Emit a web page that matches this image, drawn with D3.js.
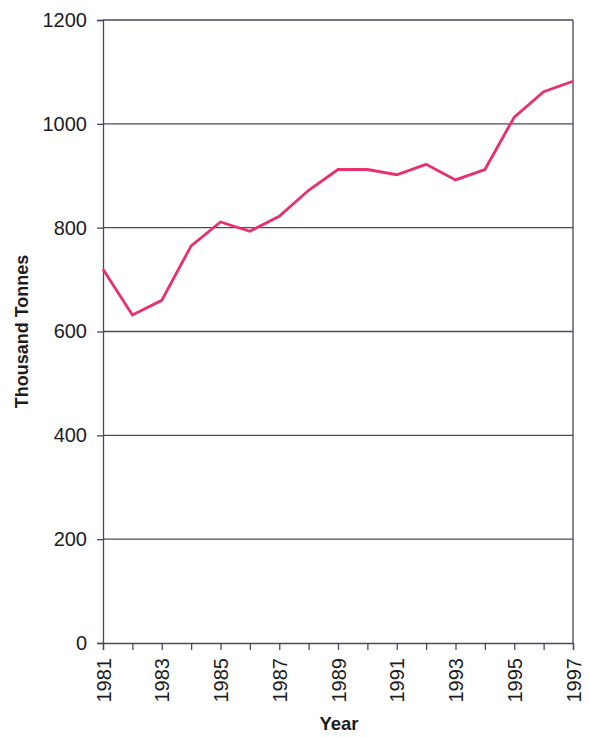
<!DOCTYPE html>
<html>
<head>
<meta charset="utf-8">
<script src="https://cdn.jsdelivr.net/npm/d3@7/dist/d3.min.js"></script>
<style>
  html, body { margin: 0; padding: 0; background: #ffffff; }
  svg { display: block; }
  text { font-family: "Liberation Sans", Arial, sans-serif; fill: #1c1c1c; }
</style>
</head>
<body>
<svg id="chart" width="589" height="737"></svg>
<script>
const years = [1981,1982,1983,1984,1985,1986,1987,1988,1989,1990,1991,1992,1993,1994,1995,1996,1997];
const tonnes = [720,632,660,765,811,793,822,872,912,912,902,922,892,912,1013,1062,1082];
const yTicks = [0,200,400,600,800,1000,1200];
const xLabelYears = [1981,1983,1985,1987,1989,1991,1993,1995,1997];

const margin = {left: 103, right: 16, top: 20, bottom: 94};
const W = 589, H = 737;
const svg = d3.select("#chart");

const x = d3.scaleLinear().domain([1981, 1997]).range([margin.left, W - margin.right]);
const y = d3.scaleLinear().domain([0, 1200]).range([H - margin.bottom, margin.top]);

const axisColor = "#4a4760";

// gridlines
svg.append("g").selectAll("line").data(yTicks.filter(d => d > 0)).join("line")
  .attr("x1", x(1981)).attr("x2", x(1997))
  .attr("y1", d => y(d)).attr("y2", d => y(d))
  .attr("stroke", axisColor).attr("stroke-width", 1.3);

// right border
svg.append("line")
  .attr("x1", x(1997)).attr("x2", x(1997))
  .attr("y1", y(1200)).attr("y2", y(0))
  .attr("stroke", axisColor).attr("stroke-width", 1.3);

// y axis
const yAxis = svg.append("g").attr("transform", `translate(${x(1981)},0)`)
  .call(d3.axisLeft(y).tickValues(yTicks).tickSize(6).tickPadding(10).tickFormat(d3.format("d")));
yAxis.select(".domain").attr("stroke", axisColor).attr("stroke-width", 1.3);
yAxis.selectAll(".tick line").attr("stroke", axisColor).attr("stroke-width", 1.3);
yAxis.selectAll(".tick text").attr("font-size", 20).attr("font-family", "Liberation Sans, Arial, sans-serif").attr("fill", "#1c1c1c");

// x axis
const xAxis = svg.append("g").attr("transform", `translate(0,${y(0)})`)
  .call(d3.axisBottom(x).tickValues(years).tickSize(7).tickFormat(d => xLabelYears.includes(d) ? String(d) : ""));
xAxis.select(".domain").attr("stroke", axisColor).attr("stroke-width", 1.3);
xAxis.selectAll(".tick line").attr("stroke", axisColor).attr("stroke-width", 1.3);
xAxis.selectAll(".tick text")
  .attr("font-size", 20).attr("font-family", "Liberation Sans, Arial, sans-serif").attr("fill", "#1c1c1c")
  .attr("transform", "rotate(-90)")
  .attr("text-anchor", "end")
  .attr("x", -15).attr("y", 0).attr("dy", "0.35em");

// line
svg.append("path")
  .datum(years.map((yr, i) => [yr, tonnes[i]]))
  .attr("fill", "none")
  .attr("stroke", "#ea2f6e")
  .attr("stroke-width", 2.8)
  .attr("stroke-linejoin", "miter")
  .attr("d", d3.line().x(d => x(d[0])).y(d => y(d[1])));

// axis titles
svg.append("text")
  .attr("transform", `translate(28,${(y(0)+y(1200))/2}) rotate(-90)`)
  .attr("text-anchor", "middle")
  .attr("font-size", 18).attr("font-weight", "bold")
  .text("Thousand Tonnes");

svg.append("text")
  .attr("x", 339).attr("y", 730)
  .attr("text-anchor", "middle")
  .attr("font-size", 18.5).attr("font-weight", "bold")
  .text("Year");
</script>
</body>
</html>
